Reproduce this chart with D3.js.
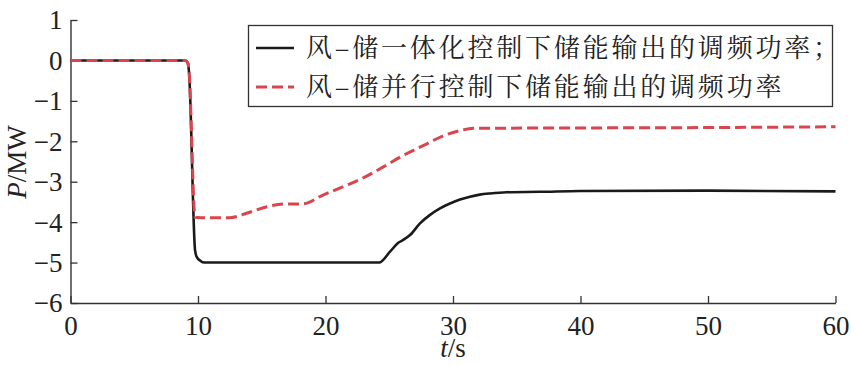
<!DOCTYPE html>
<html><head><meta charset="utf-8">
<script src="https://cdn.jsdelivr.net/npm/d3@7"></script>
<style>
html,body{margin:0;padding:0;background:#fff;}
svg{display:block;}
</style></head>
<body>
<svg id="c" width="851" height="365"></svg>
<script>
// Data
const seriesNames = ["风–储一体化控制下储能输出的调频功率；", "风–储并行控制下储能输出的调频功率"];
const xTicks = [0, 10, 20, 30, 40, 50, 60];
const yTicks = [1, 0, -1, -2, -3, -4, -5, -6];
const integratedT = [0, 5, 9.0, 9.2, 9.3, 9.77, 9.9, 10.2, 10.5, 15, 20, 24.2, 25.06, 25.71, 26.1, 26.63, 27.41, 28.2, 28.98, 29.76, 30.55, 31.33, 32.1, 32.9, 34.2, 36.8, 40, 50, 60];
const integratedP = [0, 0, 0, -0.06, -0.3, -4.7, -4.86, -4.96, -5.0, -5.0, -5.0, -5.0, -4.73, -4.51, -4.44, -4.32, -4.03, -3.82, -3.66, -3.54, -3.44, -3.37, -3.32, -3.29, -3.26, -3.25, -3.23, -3.22, -3.24];
const parallelT = [0, 5, 9.0, 9.2, 9.3, 9.77, 10.2, 12.5, 13.8, 15.4, 16.7, 18.2, 19.8, 21.4, 23.0, 24.5, 26.1, 27.7, 29.2, 30.5, 31.6, 40, 50, 60];
const parallelP = [0, 0, 0, -0.06, -0.3, -3.88, -3.89, -3.89, -3.78, -3.62, -3.55, -3.55, -3.33, -3.12, -2.9, -2.64, -2.35, -2.1, -1.87, -1.74, -1.68, -1.67, -1.66, -1.64];

const svg = d3.select("#c");
const x = d3.scaleLinear().domain([0, 60]).range([70.5, 835.5]);
const y = d3.scaleLinear().domain([-6, 1]).range([303, 20]);

const fmt = d => d < 0 ? "\u2212" + Math.abs(d) : String(d);
const SERIF = "'Liberation Serif', 'Times New Roman', serif";

// Axes
const gx = svg.append("g").attr("transform", `translate(0,${y(-6)})`)
  .call(d3.axisBottom(x).tickValues(xTicks).tickSizeInner(-7).tickSizeOuter(0).tickPadding(12).tickFormat(fmt));
const gy = svg.append("g").attr("transform", `translate(${x(0)},0)`)
  .call(d3.axisLeft(y).tickValues(yTicks).tickSizeInner(-7).tickSizeOuter(0).tickPadding(8).tickFormat(fmt));
[gx, gy].forEach(g => {
  g.attr("font-family", SERIF).attr("font-size", 27);
  g.select(".domain").attr("stroke", "#333").attr("stroke-width", 1.4);
  g.selectAll(".tick line").attr("stroke", "#333").attr("stroke-width", 1.3);
  g.selectAll(".tick text").attr("fill", "#222");
});
gy.selectAll(".tick text").attr("dy", "0.33em");
gx.selectAll(".tick text").attr("dy", "0.75em");

// Axis labels
const xl = svg.append("text").attr("x", x(30)).attr("y", 357).attr("text-anchor", "middle")
  .attr("font-family", SERIF).attr("font-size", 27).attr("fill", "#222");
xl.append("tspan").attr("font-style", "italic").text("t");
xl.append("tspan").text("/s");
const yl = svg.append("text").attr("transform", "translate(26,162) rotate(-90)").attr("text-anchor", "middle")
  .attr("font-family", SERIF).attr("font-size", 27).attr("fill", "#222");
yl.append("tspan").attr("font-style", "italic").text("P");
yl.append("tspan").text("/MW");

// Lines
const line = d3.line().x(d => x(d[0])).y(d => y(d[1])).curve(d3.curveMonotoneX);
const blackData = integratedT.map((t, i) => [t, integratedP[i]]);
const redData = parallelT.map((t, i) => [t, parallelP[i]]);
svg.append("path").datum(blackData).attr("d", line).attr("fill", "none")
  .attr("stroke", "#1a1a1a").attr("stroke-width", 2.6).attr("stroke-linejoin", "round");
svg.append("path").datum(redData).attr("d", line).attr("fill", "none")
  .attr("stroke", "#d9454d").attr("stroke-width", 3).attr("stroke-dasharray", "11,5");

// Legend
const lg = svg.append("g");
lg.append("rect").attr("x", 248.5).attr("y", 25.5).attr("width", 584).attr("height", 81)
  .attr("fill", "#fff").attr("stroke", "#333").attr("stroke-width", 1.3);
const rows = [{y: 48, color: "#1a1a1a", dash: null, w: 2.6}, {y: 87, color: "#d9454d", dash: "11,5", w: 3}];
rows.forEach((r, i) => {
  lg.append("line").attr("x1", 256).attr("x2", 294).attr("y1", r.y).attr("y2", r.y)
    .attr("stroke", r.color).attr("stroke-width", r.w).attr("stroke-dasharray", r.dash);
  lg.append("text").attr("x", 306).attr("y", r.y).attr("dy", "0.36em")
    .attr("font-family", "'Noto Serif CJK SC', 'Noto Sans CJK SC', serif")
    .attr("letter-spacing", 2.8)
    .attr("font-size", 26).attr("fill", "#222").text(seriesNames[i]);
});
</script>
</body></html>
